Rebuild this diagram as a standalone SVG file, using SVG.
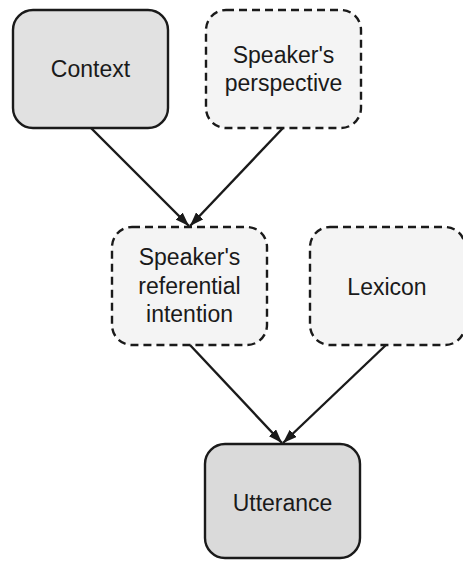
<svg xmlns="http://www.w3.org/2000/svg" width="463" height="561" viewBox="0 0 463 561">
<style>
.box{stroke:#1a1a1a;stroke-width:2.4}
.solid{fill:#e1e1e1}
.dash{fill:#f4f4f4;stroke-dasharray:8 5}
.utt{fill:#dadada}
text{font-family:"Liberation Sans",Arial,sans-serif;font-size:23px;fill:#1a1a1a;text-anchor:middle}
.edge{stroke:#1a1a1a;stroke-width:2.4;fill:none;marker-end:url(#ah)}
</style>
<defs>
<marker id="ah" viewBox="0 0 14 10" refX="14" refY="5" markerWidth="14" markerHeight="10" markerUnits="userSpaceOnUse" orient="auto">
<path d="M0,0 L14,5 L0,10 Z" fill="#1a1a1a"/>
</marker>
</defs>
<g id="context"><rect class="box solid" x="13" y="10" width="155" height="118" rx="20"/><text x="90.5" y="77">Context</text></g>
<g id="perspective"><rect class="box dash" x="206" y="10" width="155" height="118" rx="20"/><text x="283.5" y="63">Speaker's</text><text x="283.5" y="91">perspective</text></g>
<g id="intention"><rect class="box dash" x="112" y="227" width="155" height="118" rx="20"/><text x="189.5" y="265">Speaker's</text><text x="189.5" y="294">referential</text><text x="189.5" y="322">intention</text></g>
<g id="lexicon"><rect class="box dash" x="310" y="227" width="155" height="118" rx="20"/><text x="387" y="295">Lexicon</text></g>
<g id="utterance"><rect class="box utt" x="205" y="444" width="155" height="114" rx="20"/><text x="282.5" y="511">Utterance</text></g>
<g id="connectors">
<line class="edge" x1="91" y1="128" x2="189" y2="226"/>
<line class="edge" x1="283" y1="128" x2="190" y2="226"/>
<line class="edge" x1="190" y1="345" x2="282" y2="443"/>
<line class="edge" x1="386" y1="345" x2="283" y2="443"/>
</g>
</svg>
